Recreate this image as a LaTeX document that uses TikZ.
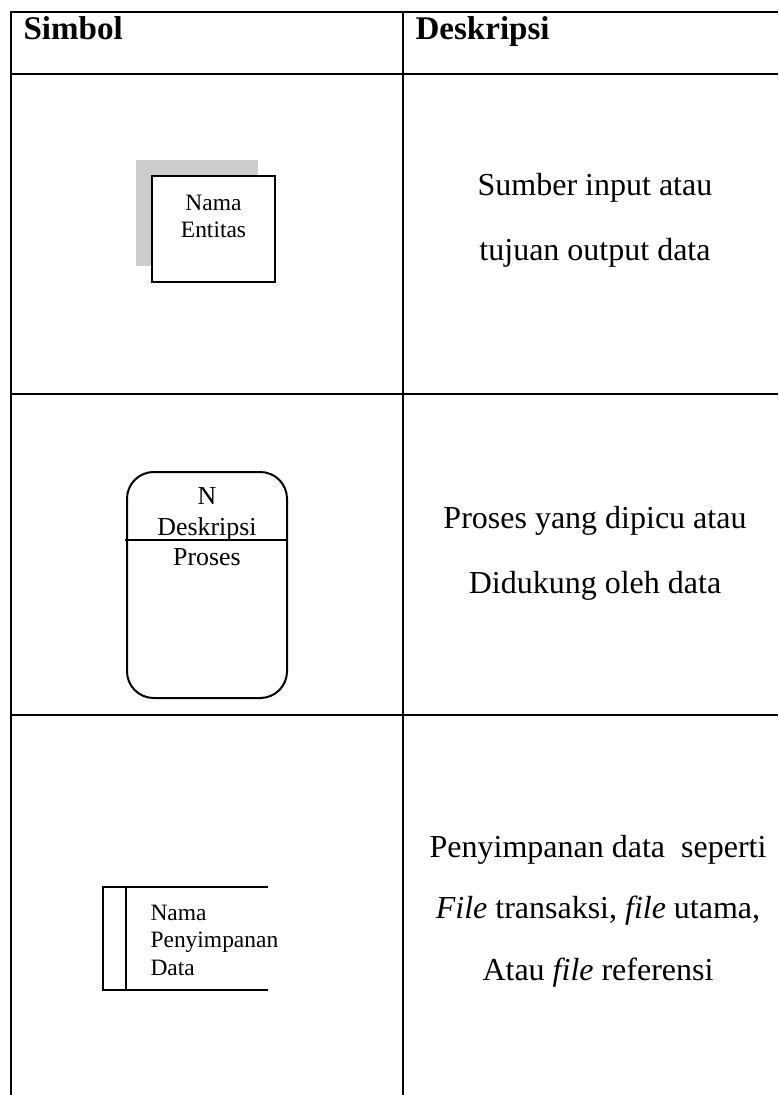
\documentclass[tikz,border=0pt]{standalone}
\usepackage{fontspec}
\setmainfont{Liberation Serif}
\begin{document}
\begin{tikzpicture}[x=0.375pt,y=-0.375pt,
    grid/.style={line width=1.05pt},
    sym/.style={line width=0.75pt},
    every node/.style={inner sep=0pt},
    head/.style={anchor=base west,font=\fontsize{12.4}{14}\selectfont\bfseries},
    desc/.style={anchor=base,font=\fontsize{12}{14}\selectfont},
    lbl/.style={anchor=base,font=\fontsize{8.8}{10}\selectfont},
    plbl/.style={anchor=base,font=\fontsize{9.7}{11}\selectfont}]
    \useasboundingbox(0, 0)rectangle(778, 1095);
    % table lines
    \draw[grid](11, 1095)--(11, 12)--(778, 12);
    \draw[grid](403, 12)--(403, 1095);
    \draw[grid](11, 74)--(778, 74);
    \draw[grid](11, 394)--(778, 394);
    \draw[grid](11, 715)--(778, 715);
    \node[head](hsym)at(23, 40){Simbol};
    \node[head](hdesc)at(415, 40){Deskripsi};
    % entitas
    \fill[gray!40](136, 160)rectangle(258, 266);
    \draw[sym, fill=white](152, 176)rectangle(275, 282);
    \node[lbl](ent1)at(213.5, 210){Nama};
    \node[lbl](ent2)at(213.5, 237){Entitas};
    \node[desc](d1a)at(595, 195){Sumber input atau};
    \node[desc](d1b)at(595, 260){tujuan output data};
    % proses
    \draw[sym, rounded corners=10pt](127, 472)rectangle(287, 698);
    \draw[sym](125, 540)--(287, 540);
    \node[plbl](pr1)at(207, 504){N};
    \node[plbl](pr2)at(207, 535){Deskripsi};
    \node[plbl](pr3)at(207, 565){Proses};
    \node[desc](d2a)at(595, 528){Proses yang dipicu atau};
    \node[desc](d2b)at(595, 593){Didukung oleh data};
    % penyimpanan
    \draw[sym](268, 887)--(103, 887)--(103, 990)--(268, 990);
    \draw[sym](126, 887)--(126, 990);
    \node[lbl, anchor=base west](st1)at(150, 920){Nama};
    \node[lbl, anchor=base west](st2)at(150, 947){Penyimpanan};
    \node[lbl, anchor=base west](st3)at(150, 975){Data};
    \node[desc](d3a)at(598, 857){Penyimpanan data\ \ seperti};
    \node[desc](d3b)at(598, 918){\textit{File} transaksi, \textit{file} utama,};
    \node[desc](d3c)at(598, 980){Atau \textit{file} referensi};
\end{tikzpicture}
\end{document}
